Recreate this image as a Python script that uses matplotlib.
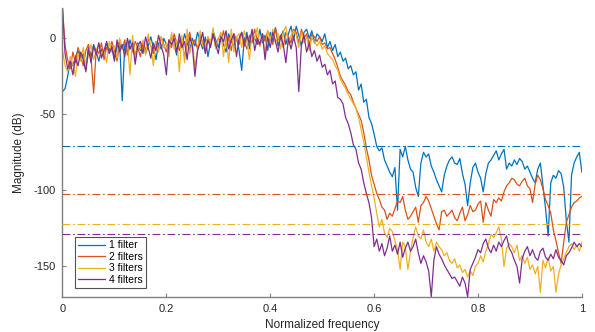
import numpy as np
import matplotlib
matplotlib.use("Agg")
import matplotlib.pyplot as plt

labels = ["1 filter", "2 filters", "3 filters", "4 filters"]
colors = ["#0072BD", "#D95319", "#EDB120", "#7E2F8E"]
thresholds = [-70.5, -102.3, -122.0, -128.9]
xticks = [0, 0.2, 0.4, 0.6, 0.8, 1]
yticks = [-150, -100, -50, 0]

blue = [
-35, -33, -25, -15, -18, -12, -8, -14, -10, -20,
-6, -12, -4, -9, -15, -7, -11, -3, -8, -5,
-13, -6, -2, -41, -4, -9, -1, -7, -12, -3,
-8, -2, -10, -5, 1, -6, -14, -3, -7, 0,
-4, -9, 2, -5, -11, -1, -6, 3, -3, -8,
0, -5, 4, -2, -7, 1, -12, -3, 5, -1,
-6, 2, -4, -9, 3, -2, -5, 1, -8, -21,
-1, 4, -7, 5, 0, -4, 6, -3, 2, -8,
4, -2, 7, -5, 1, 5, -4, 3, 8, -1,
8, 2, -5, 4, 6, 0, 5, -3, 3, 1,
-2, 3, -6, -2, -8, -4, -12, -9, -15, -13,
-20, -18, -24, -22, -34, -30, -42, -40, -52, -56,
-63, -71, -74, -72, -80, -84, -88, -91, -85, -113,
-73, -78, -71, -80, -86, -88, -98, -104, -82, -75,
-78, -76, -84, -88, -93, -97, -101, -90, -84, -80,
-78, -82, -83, -79, -89, -96, -110, -95, -85, -82,
-88, -92, -101, -89, -82, -80, -77, -74, -80, -76,
-73, -86, -82, -84, -80, -83, -79, -81, -86, -84,
-88, -92, -95, -86, -82, -97, -112, -130, -95, -90,
-92, -87, -89, -98, -120, -134, -90, -82, -78, -75,
-88]

red = [
20, -5, -14, -20, -9, -16, -6, -12, -18, -8,
-4, -13, -36, -7, -10, -3, -14, -6, -9, -2,
-8, -15, -4, -7, -1, -11, -5, -9, -2, -6,
-12, -3, -8, 0, -5, -10, -2, -7, 1, -4,
-9, -1, -6, 3, -3, -8, 0, -13, -2, 4,
-5, -1, -7, 2, -3, -9, 1, -4, 3, -6,
0, -2, 5, -5, 1, -8, 3, -1, -4, 4,
-2, -7, 2, -3, 6, -1, -5, 3, -2, 5,
0, -4, 7, -1, 2, -6, 4, 1, -3, 6,
4, -3, 6, 0, 3, -4, 3, 1, -2, 1,
-4, -3, -7, -6, -10, -14, -19, -25, -28, -31,
-35, -37, -42, -46, -50, -54, -62, -72, -80, -90,
-96, -102, -106, -111, -113, -119, -115, -117, -112, -107,
-108, -104, -113, -119, -117, -114, -111, -121, -110, -108,
-104, -107, -112, -117, -122, -126, -114, -113, -117, -115,
-113, -118, -120, -115, -111, -120, -116, -110, -114, -113,
-109, -107, -121, -108, -113, -117, -106, -108, -105, -107,
-101, -97, -95, -92, -93, -96, -97, -94, -92, -97,
-99, -108, -96, -90, -93, -99, -106, -110, -115, -126,
-133, -141, -148, -134, -121, -116, -111, -108, -107, -105,
-104]

yellow = [
-8, -18, -22, -12, -17, -25, -10, -15, -6, -19,
-11, -4, -14, -8, -3, -12, -7, -16, -2, -9,
-5, -13, 0, -6, -10, -3, -24, 2, -14, -4,
-7, -1, -11, 3, -5, -18, -2, -9, 1, -6,
-3, -12, 4, -7, -1, -22, 2, -16, 6, -10,
-2, -19, -8, 5, -5, -6, 1, -3, 7, -7,
0, 4, -12, 2, -16, 6, -9, 1, 3, -6,
5, -2, -14, 4, 0, 7, -5, 2, -10, 5,
-1, 6, -3, 3, -7, 4, 8, -4, 2, 5,
2, -6, 4, -3, 1, -8, 0, -2, -5, -2,
-7, -5, -10, -12, -14, -18, -21, -27, -30, -33,
-37, -40, -43, -46, -52, -60, -68, -78, -88, -97,
-105, -115, -124, -119, -128, -131, -125, -127, -133, -139,
-152, -134, -137, -152, -140, -131, -124, -130, -132, -126,
-134, -137, -132, -140, -134, -137, -139, -143, -141, -146,
-148, -145, -151, -149, -154, -152, -157, -153, -156, -150,
-148, -143, -147, -140, -135, -129, -131, -128, -124, -132,
-150, -138, -135, -137, -141, -136, -146, -143, -148, -144,
-152, -149, -155, -150, -167, -146, -151, -144, -153, -150,
-167, -155, -149, -145, -141, -137, -135, -139, -136, -140,
-134]

purple = [
20, -10, -20, -15, -24, -13, -18, -9, -14, -22,
-7, -16, -5, -11, -3, -13, -8, -2, -10, -6,
-15, -1, -9, -4, -12, 0, -7, -3, -17, -5,
-2, -10, 1, -6, -13, -3, -8, 2, -5, -11,
-24, -1, -4, 0, -9, 3, -6, -2, -14, 1,
-5, -25, -8, -3, 4, -10, -1, -6, 3, -4,
-10, 1, -2, 5, -7, -1, 3, -12, 0, 4,
-5, 2, -3, 6, -8, 0, -4, 3, -14, 1,
-6, 4, -2, -9, 2, -4, -16, 0, -7, 1,
-6, -35, -4, 2, -9, -3, -12, -8, -15, -11,
-19, -17, -24, -21, -30, -28, -39, -40, -43, -52,
-56, -62, -70, -73, -82, -86, -95, -102, -108, -118,
-137, -132, -140, -135, -143, -138, -130, -140, -136, -142,
-134, -144, -138, -134, -140, -137, -132, -141, -148, -143,
-147, -153, -170, -146, -137, -142, -145, -149, -152, -155,
-158, -157, -160, -163, -157, -161, -170, -152, -148, -144,
-139, -141, -135, -132, -138, -141, -136, -140, -134, -137,
-133, -130, -138, -141, -146, -150, -161, -145, -140, -137,
-143, -139, -144, -146, -140, -138, -144, -146, -142, -145,
-139, -144, -146, -149, -143, -141, -138, -134, -137, -135,
-137]

series = [blue, red, yellow, purple]

plt.rcParams['font.family'] = ['Liberation Sans', 'DejaVu Sans']
fig = plt.figure(figsize=(5.95, 3.32), dpi=100)
ax = fig.add_axes([0.105, 0.106, 0.873, 0.870])

for vals, c, lab in zip(series, colors, labels):
    x = np.linspace(0, 1, len(vals))
    ax.plot(x, vals, color=c, lw=0.9, label=lab)

for t, c in zip(thresholds, colors):
    ax.axhline(t, color=c, lw=0.8, ls=(0, (7, 2.5, 1.5, 2.5)), zorder=5)

ax.set_xlim(0, 1)
ax.set_ylim(-170, 20)
ax.set_xticks(xticks)
ax.set_xticklabels(["0", "0.2", "0.4", "0.6", "0.8", "1"])
ax.set_yticks(yticks)
ax.set_yticklabels([str(v) for v in yticks])
ax.tick_params(direction='in', length=3, width=0.8, color='#808080',
               labelsize=8, labelcolor='#262626', pad=5)
for s in ['top', 'right']:
    ax.spines[s].set_visible(False)
for s in ['left', 'bottom']:
    ax.spines[s].set_color('#808080')
    ax.spines[s].set_linewidth(1.0)

ax.set_xlabel('Normalized frequency', fontsize=8.5, color='#262626', labelpad=4)
ax.set_ylabel('Magnitude (dB)', fontsize=8.5, color='#262626', labelpad=6)

leg = ax.legend(loc='lower left', bbox_to_anchor=(0.024, 0.03), borderaxespad=0,
                fontsize=7.5, frameon=True, fancybox=False, handlelength=2.6,
                handletextpad=0.4, labelspacing=0.15, borderpad=0.3)
leg.get_frame().set_edgecolor('#262626')
leg.get_frame().set_linewidth(0.8)

fig.savefig('out.png', dpi=100)
